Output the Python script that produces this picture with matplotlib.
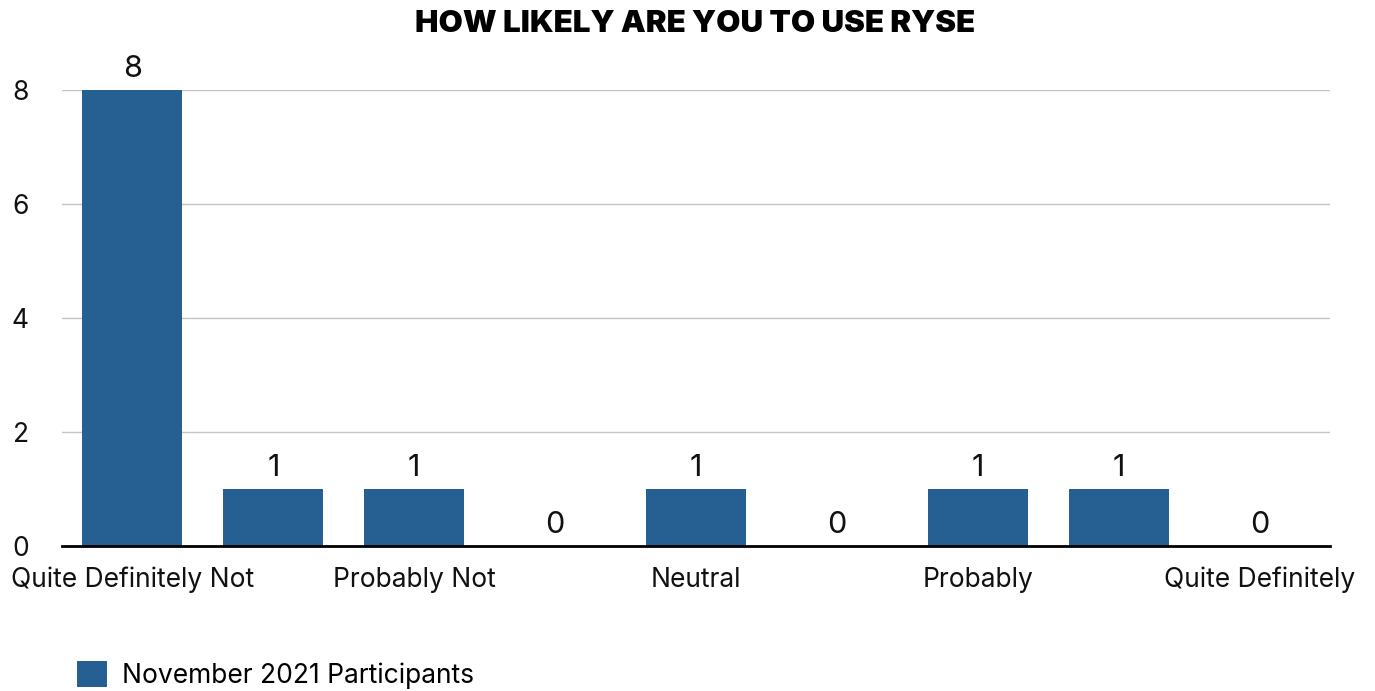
import matplotlib.pyplot as plt
from matplotlib.patches import Patch

categories = ['Quite Definitely Not', '', 'Probably Not', '', 'Neutral', '',
              'Probably', '', 'Quite Definitely']
values = [8, 1, 1, 0, 1, 0, 1, 1, 0]
series_name = 'November 2021 Participants'
title = 'HOW LIKELY ARE YOU TO USE RYSE'
yticks = [0, 2, 4, 6, 8]

bar_color = '#265f91'

plt.rcParams['font.family'] = ['Inter', 'DejaVu Sans']

fig = plt.figure(figsize=(13.75, 6.91), dpi=100)
ax = fig.add_axes([62 / 1375, 1 - 546 / 691, 1268 / 1375, 456 / 691])

x = list(range(len(values)))
ax.bar(x, values, width=0.71, color=bar_color, zorder=3)

# value labels over each bar (zero bars too)
for xi, v in zip(x, values):
    ax.annotate(str(v), (xi, v), xytext=(0, 5), textcoords='offset points',
                ha='center', va='bottom', fontsize=22, color='#111111',
                annotation_clip=False)

ax.set_xlim(-0.5, len(values) - 0.5)
ax.set_ylim(0, 8)
ax.set_yticks(yticks)
ax.set_yticklabels([str(t) for t in yticks], fontsize=19, color='#111111')
ax.set_xticks(x)
ax.set_xticklabels(categories, fontsize=19, color='#111111')
ax.tick_params(axis='y', length=0, pad=24)
ax.tick_params(axis='x', length=0, pad=15)

ax.grid(axis='y', color='#c4c4c4', linewidth=1, zorder=0)
for side in ['top', 'right', 'left']:
    ax.spines[side].set_visible(False)
ax.spines['bottom'].set_color('black')
ax.spines['bottom'].set_linewidth(2)
ax.spines['bottom'].set_zorder(4)

fig.text(695 / 1375, 1 - 24 / 691, title, ha='center', va='center',
         fontsize=22.5, fontweight='black', color='black')

fig.legend(handles=[Patch(facecolor=bar_color, label=series_name)],
           loc='center left', bbox_to_anchor=(77 / 1375, 1 - 675 / 691),
           frameon=False, fontsize=19, handlelength=1.15, handleheight=1.15,
           handletextpad=0.55, borderpad=0, borderaxespad=0)

fig.savefig('out.png', dpi=100)
